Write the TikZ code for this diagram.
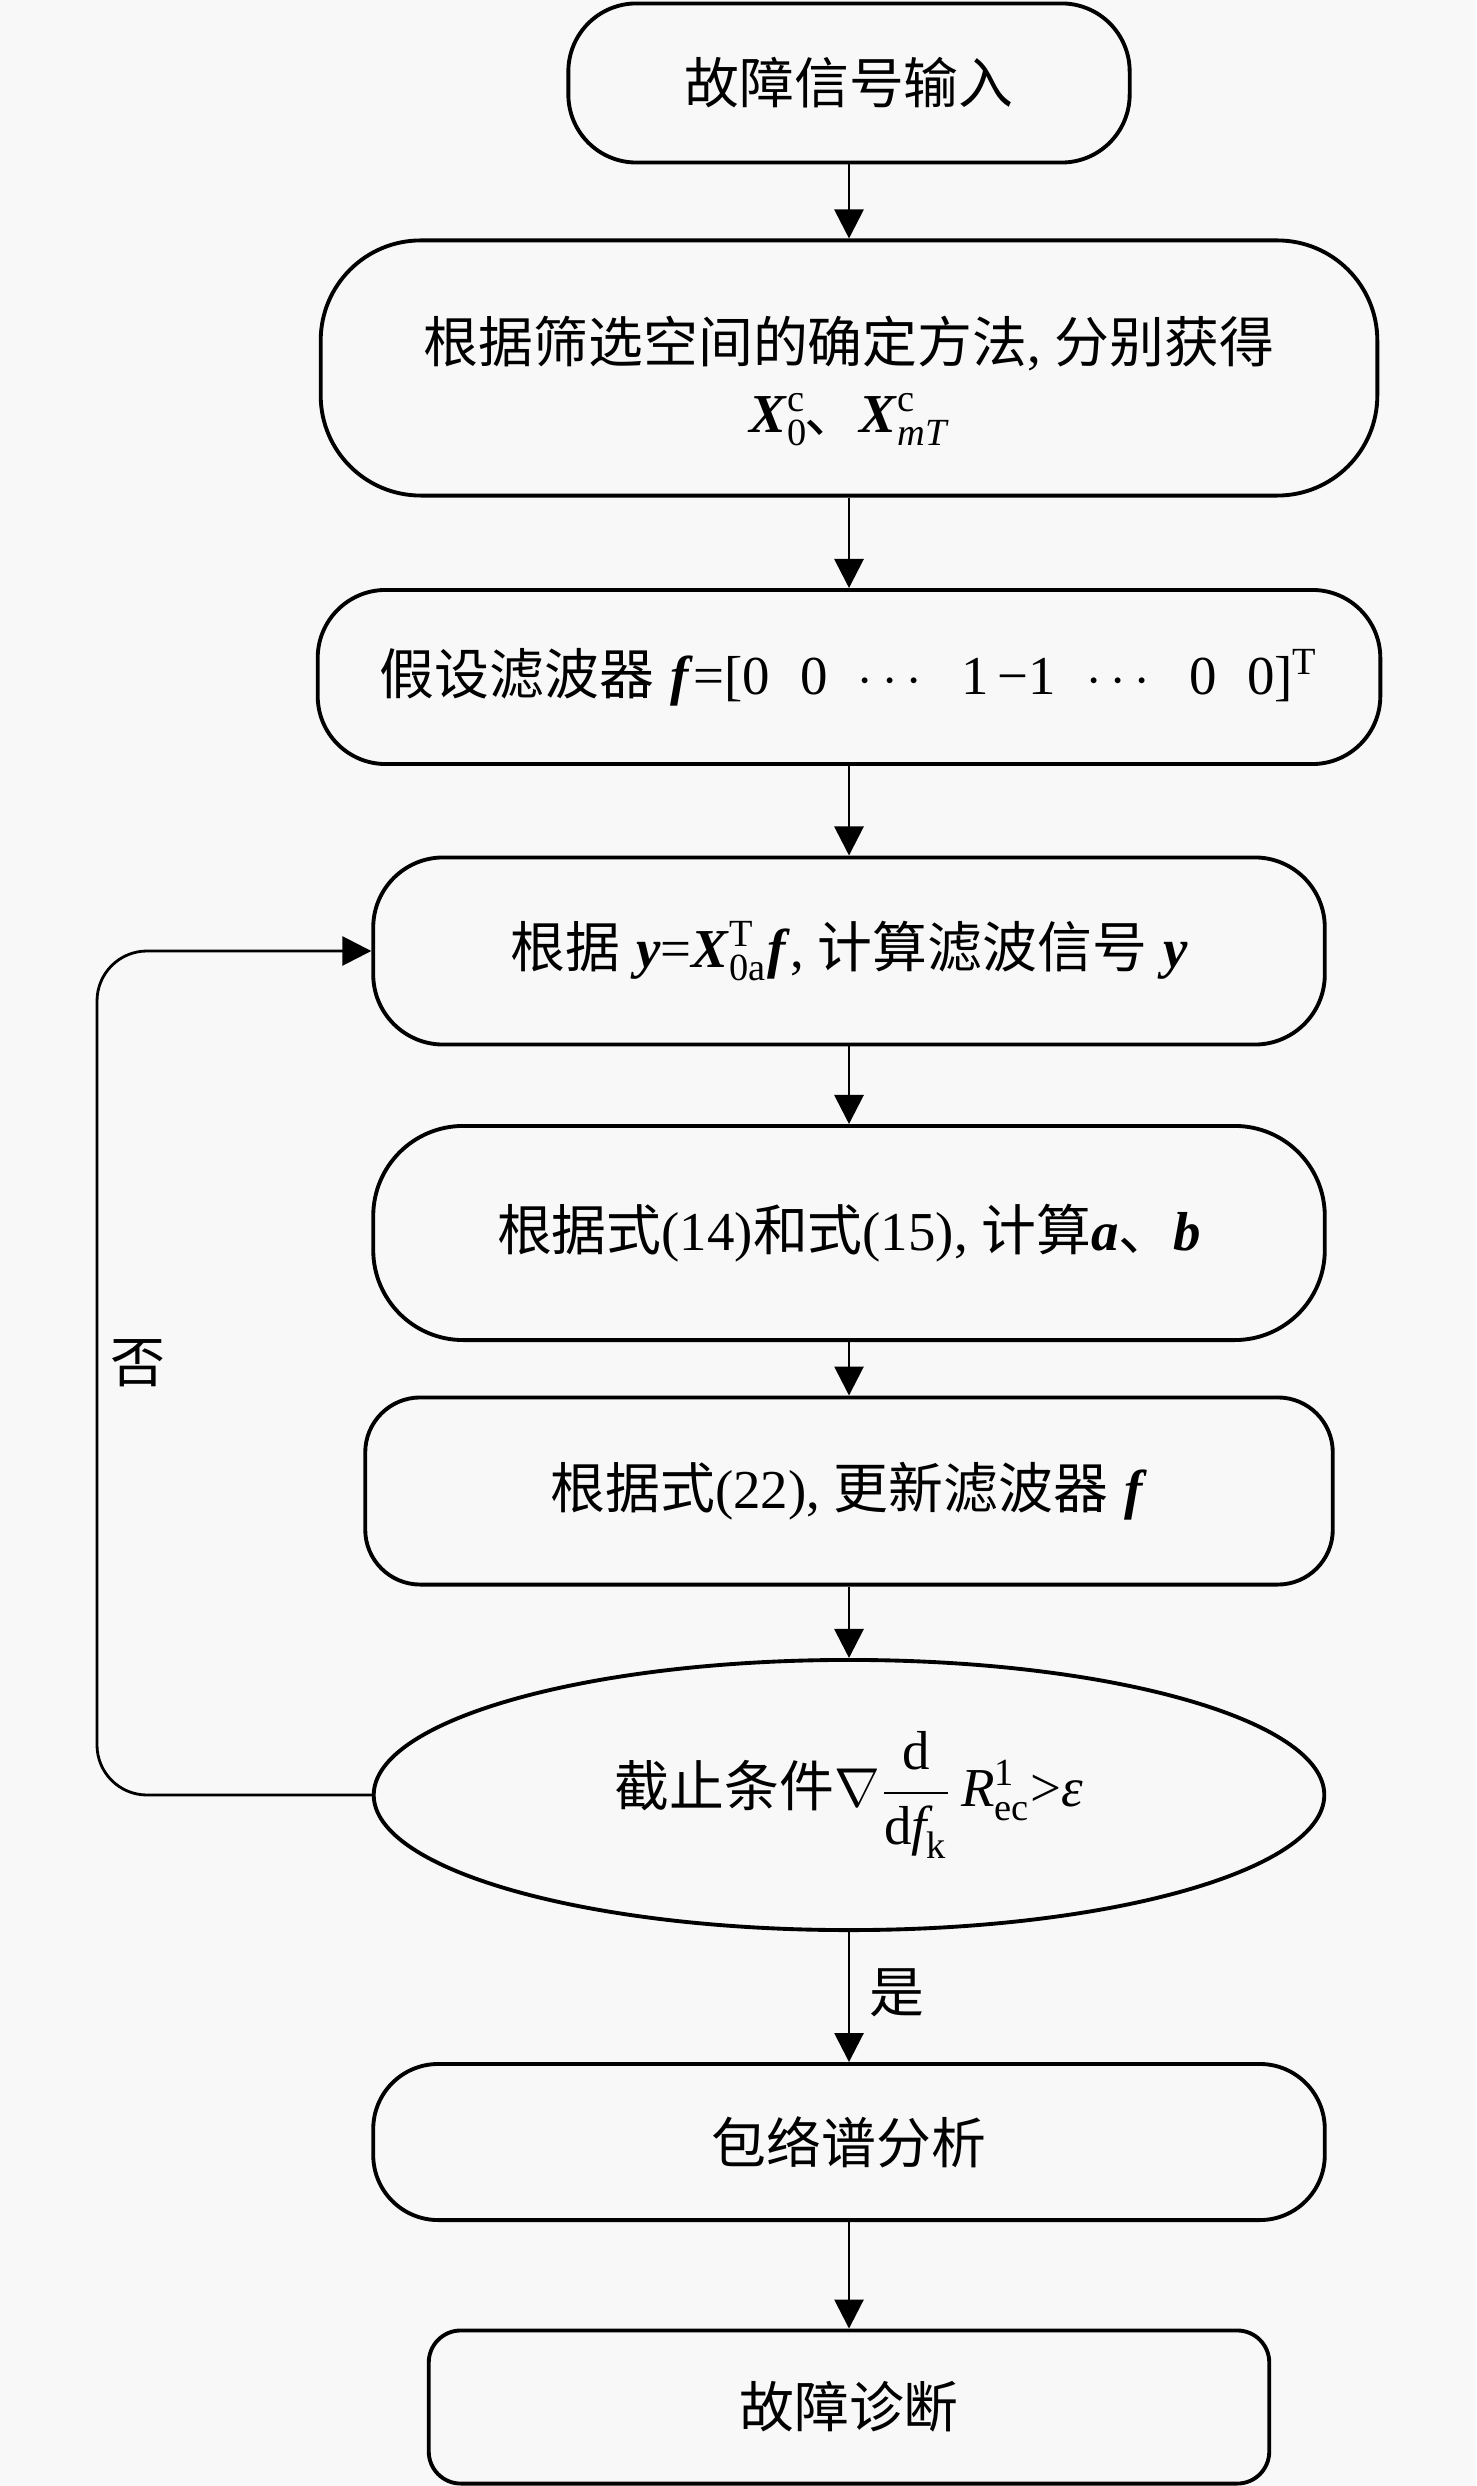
\RequirePackage{fix-cm}
\documentclass[tikz,border=0pt]{standalone}
\usepackage{amsmath}
\usepackage{fontspec}
\setmainfont{Liberation Serif}
\newfontfamily\zh{Noto Sans CJK SC}
\usetikzlibrary{arrows.meta,shapes.geometric}
\definecolor{bgc}{RGB}{248,248,248}
\newcommand{\bi}[1]{\textbf{\textit{#1}}}
\newcommand{\gap}{\hspace{0.3em}}
\begin{document}
\begin{tikzpicture}[x=0.01cm,y=-0.01cm,
  font=\fontsize{15.6}{19}\selectfont,
  box/.style={draw, line width=1.1pt, inner sep=0pt, align=center},
  conn/.style={line width=0.8pt, -{Triangle[length=2.9mm,width=2.9mm]}},
  plainline/.style={line width=0.8pt}]
\fill[bgc] (0,0) rectangle (1476,2486);
\useasboundingbox (0,0) rectangle (1476,2486);

\node[box, minimum width=5.61cm, minimum height=1.59cm, rounded corners=0.68cm] (n1) at (849,83) {\zh 故障信号输入};

\node[box, minimum width=10.56cm, minimum height=2.55cm, rounded corners=1.0cm,
  label={[align=center, yshift=-0.13cm]center:{{\zh 根据筛选空间的确定方法}, {\zh 分别获得}\\[1pt]
   $\text{\bi{X}}^{\text{c}}_{\text{0}}$\kern-1pt{\zh 、}$\text{\bi{X}}^{\text{c}}_{\text{\itshape mT}}$}}] (n2) at (849,368) {};

\node[box, minimum width=10.62cm, minimum height=1.74cm, rounded corners=0.68cm] (n3) at (849,677)
  {{\zh 假设滤波器}\gap\bi{f}=[0\hspace{0.55em}0\hspace{0.55em}$\cdots$\hspace{0.55em}1\,−1\hspace{0.55em}$\cdots$\hspace{0.55em}0\hspace{0.55em}0]$^{\text{T}}$};

\node[box, minimum width=9.51cm, minimum height=1.87cm, rounded corners=0.7cm] (n4) at (849,951)
  {{\zh 根据}\gap\bi{y}=$\text{\bi{X}}^{\text{T}}_{\text{0a}}$\bi{f}, {\zh 计算滤波信号}\gap\bi{y}};

\node[box, minimum width=9.51cm, minimum height=2.14cm, rounded corners=0.9cm] (n5) at (849,1233)
  {{\zh 根据式}(14){\zh 和式}(15), {\zh 计算}\bi{a}{\zh 、}\bi{b}};

\node[box, minimum width=9.67cm, minimum height=1.87cm, rounded corners=0.55cm] (n6) at (849,1491)
  {{\zh 根据式}(22), {\zh 更新滤波器}\gap\bi{f}};

\node[box, ellipse, minimum width=9.5cm, minimum height=2.7cm] (n7) at (849,1795)
  {{\zh 截止条件}$\nabla\dfrac{\text{d}}{\text{d}\text{\itshape f}_{\text{k}}}\,\text{\itshape R}^{\text{1}}_{\text{ec}}\text{>}\text{\itshape ε}$};

\node[box, minimum width=9.51cm, minimum height=1.56cm, rounded corners=0.65cm] (n8) at (849,2142) {\zh 包络谱分析};

\node[box, minimum width=8.4cm, minimum height=1.53cm, rounded corners=0.32cm] (n9) at (849,2407) {\zh 故障诊断};

\node (yes) at (897,1993) {\zh 是};
\node (no) at (138,1363) {\zh 否};

\draw[conn] (n1.south) -- (n2.north);
\draw[conn] (n2.south) -- (n3.north);
\draw[conn] (n3.south) -- (n4.north);
\draw[conn] (n4.south) -- (n5.north);
\draw[conn] (n5.south) -- (n6.north);
\draw[conn] (n6.south) -- (n7.north);
\draw[conn] (n7.south) -- (n8.north);
\draw[conn] (n8.south) -- (n9.north);

\coordinate (lp) at (97,1795);
\draw[conn, rounded corners=0.5cm] (n7.west) -- (lp) |- (n4.west);
\end{tikzpicture}
\end{document}
